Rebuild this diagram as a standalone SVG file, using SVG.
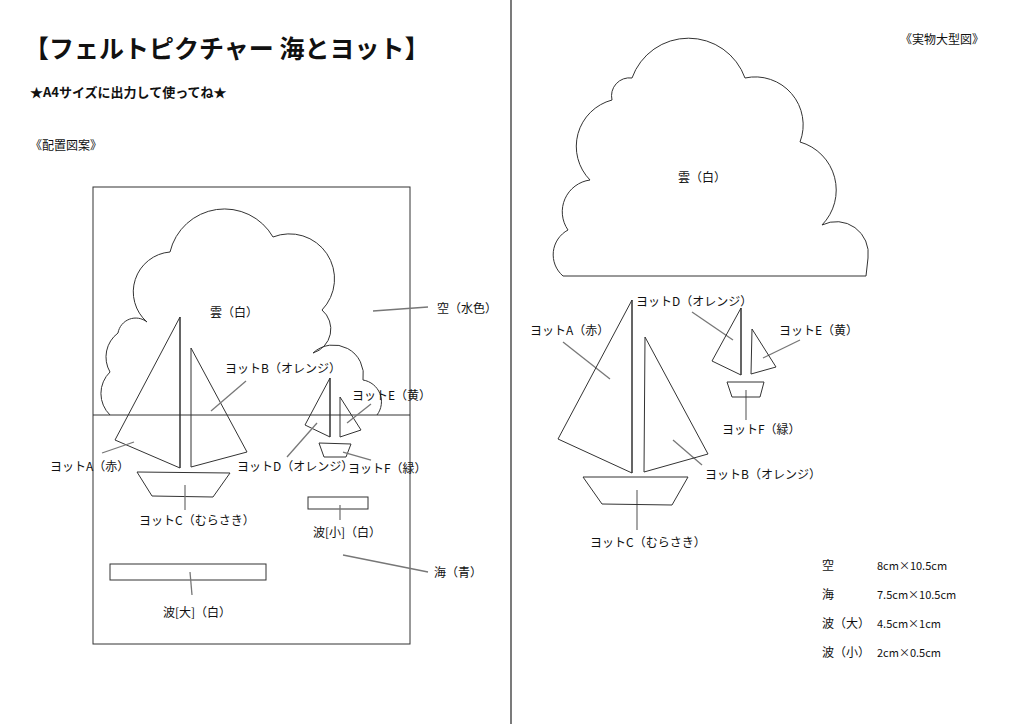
<svg xmlns="http://www.w3.org/2000/svg" width="1024" height="724" viewBox="0 0 1024 724">
<style>
.s{fill:none;stroke:#333;stroke-width:1}
.l{stroke:#777;stroke-width:1.3}
text{font-family:"Noto Sans CJK JP","Noto Sans",sans-serif;font-size:12px;fill:#111}
.t{font-size:25px;font-weight:bold}
.st{font-size:13px;font-weight:bold}
.sm{font-size:11px}
</style>
<rect width="1024" height="724" fill="#fff"/>
<line x1="511" y1="0" x2="511" y2="724" stroke="#222" stroke-width="1.2"/>
<text class="t" x="24" y="58">【フェルトピクチャー 海とヨット】</text>
<text class="st" x="30" y="97">★A4サイズに出力して使ってね★</text>
<text x="30" y="150">《配置図案》</text>
<text x="900" y="44">《実物大型図》</text>
<g id="left-frame"><rect class="s" x="93" y="187" width="317" height="457" stroke="#555"/><line class="s" x1="93" y1="415" x2="410" y2="415"/></g>
<g id="left-cloud"><path class="s" d="M110,415 A30,30 0 0 1 110,372 A30,30 0 0 1 118,333 A18,18 0 0 1 147,322 A40,40 0 0 1 170,252 A56,56 0 0 1 273,237 A45,45 0 0 1 322,310 A25,25 0 0 1 313,353 A30,30 0 0 1 363,380 A22,22 0 0 1 377,415"/></g>
<g id="left-boats" class="s">
<polygon points="180,317 115,440 180,468"/><line x1="180" y1="317" x2="180" y2="468"/>
<polygon points="191,348 247,452 191,467"/>
<polygon points="137,472 230,473 213,497 152,496"/>
<polygon points="330,378 305,425 330,437"/><line x1="330" y1="378" x2="330" y2="437"/>
<polygon points="340,397 361,430 340,437"/>
<polygon points="319,443 351,444 346,457 324,457"/>
<rect x="308" y="497" width="60" height="12"/>
<rect x="110" y="564" width="156" height="16"/>
</g>
<g id="connectors" class="l">
<line x1="246" y1="381" x2="211" y2="411"/><line x1="373" y1="311" x2="428" y2="307"/>
<line x1="134" y1="442" x2="102" y2="453"/><line x1="317" y1="423" x2="287" y2="457"/>
<line x1="371" y1="404" x2="347" y2="423"/><line x1="343" y1="452" x2="371" y2="460"/>
<line x1="185" y1="485" x2="185" y2="510"/><line x1="340" y1="505" x2="340" y2="520"/>
<line x1="343" y1="555" x2="428" y2="572"/><line x1="190" y1="572" x2="192" y2="595"/>
<line x1="563" y1="342" x2="610" y2="379"/><line x1="692" y1="312" x2="733" y2="340"/>
<line x1="800" y1="340" x2="763" y2="358"/><line x1="746" y1="390" x2="746" y2="420"/>
<line x1="673" y1="440" x2="702" y2="465"/><line x1="637" y1="490" x2="637" y2="530"/>
</g>
<g id="left-labels">
<text x="210" y="317">雲（白）</text><text x="437" y="313">空（水色）</text>
<text x="225" y="373">ヨットB（オレンジ）</text><text x="352" y="400">ヨットE（黄）</text>
<text x="50" y="471">ヨットA（赤）</text><text x="237" y="471">ヨットD（オレンジ）</text>
<text x="348" y="473">ヨットF（緑）</text><text x="139" y="525">ヨットC（むらさき）</text>
<text x="313" y="537">波[小]（白）</text><text x="434" y="577">海（青）</text>
<text x="163" y="617">波[大]（白）</text>
</g>
<g id="right-cloud"><path class="s" d="M563,276 A28,28 0 0 1 568,230 A32,32 0 0 1 590,180 A48,48 0 0 1 612,100 A18,18 0 0 1 632,78 A60,60 0 0 1 745,78 A48,48 0 0 1 800,142 A50,50 0 0 1 822,225 A32,32 0 0 1 868,258 L866,276 Z"/></g>
<g id="right-boats" class="s">
<polygon points="632,300 558,439 632,473"/><line x1="632" y1="300" x2="632" y2="473"/>
<polygon points="645,337 708,454 644,472"/>
<polygon points="583,477 688,477 672,505 602,504"/>
<polygon points="741,308 712,361 741,375"/><line x1="741" y1="308" x2="741" y2="375"/>
<polygon points="752,329 776,367 751,374"/>
<polygon points="727,382 764,382 760,397 732,397"/>
</g>
<g id="right-labels">
<text x="678" y="182">雲（白）</text><text x="636" y="306">ヨットD（オレンジ）</text>
<text x="530" y="335">ヨットA（赤）</text><text x="779" y="335">ヨットE（黄）</text>
<text x="722" y="434">ヨットF（緑）</text><text x="705" y="479">ヨットB（オレンジ）</text>
<text x="590" y="547">ヨットC（むらさき）</text>
</g>
<g id="table">
<text x="822" y="570">空</text><text class="sm" x="877" y="570">8cm×10.5cm</text>
<text x="822" y="599">海</text><text class="sm" x="877" y="599">7.5cm×10.5cm</text>
<text x="822" y="628">波（大）</text><text class="sm" x="877" y="628">4.5cm×1cm</text>
<text x="822" y="657">波（小）</text><text class="sm" x="877" y="657">2cm×0.5cm</text>
</g>
</svg>
